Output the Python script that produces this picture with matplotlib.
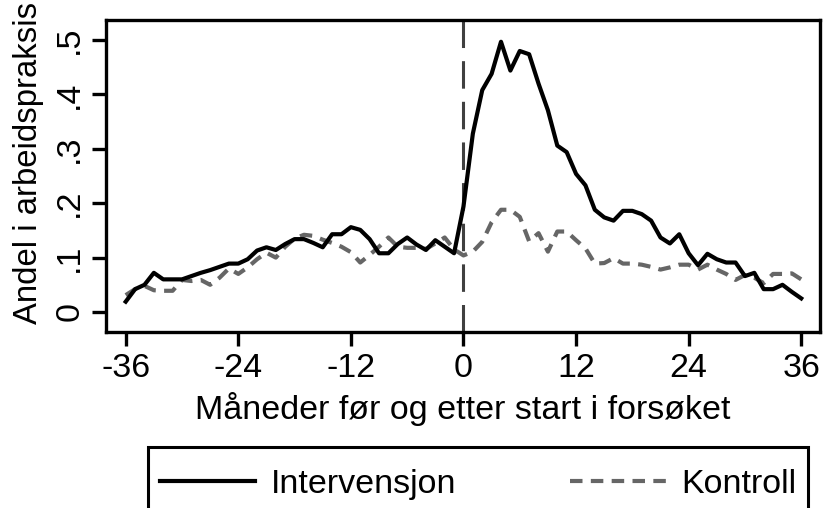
import numpy as np
import matplotlib
matplotlib.use("Agg")
import matplotlib.pyplot as plt
from matplotlib.patches import Rectangle

# months relative to start of the trial
months = list(range(-36, 37))

intervensjon = [
    0.019, 0.042, 0.050, 0.072, 0.060, 0.060, 0.060, 0.066, 0.072, 0.077,
    0.083, 0.089, 0.089, 0.097, 0.113, 0.119, 0.114, 0.125, 0.134, 0.134,
    0.127, 0.119, 0.143, 0.143, 0.156, 0.151, 0.134, 0.108, 0.108, 0.125,
    0.137, 0.124, 0.114, 0.132, 0.120, 0.108, 0.194, 0.328, 0.408, 0.438,
    0.497, 0.444, 0.480, 0.474, 0.420, 0.371, 0.306, 0.294, 0.254, 0.233,
    0.188, 0.174, 0.168, 0.186, 0.186, 0.180, 0.168, 0.137, 0.126, 0.143,
    0.108, 0.086, 0.107, 0.097, 0.091, 0.091, 0.066, 0.072, 0.042, 0.042,
    0.050, 0.037, 0.025,
]

kontroll = [
    0.031, 0.042, 0.048, 0.040, 0.039, 0.039, 0.059, 0.057, 0.059, 0.050,
    0.063, 0.080, 0.070, 0.082, 0.097, 0.109, 0.100, 0.120, 0.135, 0.142,
    0.140, 0.133, 0.127, 0.120, 0.110, 0.091, 0.105, 0.120, 0.137, 0.120,
    0.118, 0.118, 0.116, 0.126, 0.137, 0.115, 0.104, 0.111, 0.129, 0.165,
    0.188, 0.188, 0.175, 0.130, 0.145, 0.111, 0.148, 0.148, 0.132, 0.117,
    0.089, 0.090, 0.099, 0.089, 0.089, 0.087, 0.083, 0.078, 0.082, 0.087,
    0.087, 0.078, 0.087, 0.078, 0.070, 0.059, 0.068, 0.063, 0.053, 0.070,
    0.070, 0.071, 0.060,
]

x_ticks = [-36, -24, -12, 0, 12, 24, 36]
y_ticks = [0, 0.1, 0.2, 0.3, 0.4, 0.5]
y_ticklabels = ["0", ".1", ".2", ".3", ".4", ".5"]

plt.rcParams["font.family"] = ["Liberation Sans", "DejaVu Sans"]
FS = 24.5

W, H = 826, 508
fig = plt.figure(figsize=(W / 100, H / 100), dpi=100)
ax = fig.add_axes([106 / W, 1 - 332 / H, 714 / W, 312 / H])

ax.axvline(0, color="#404040", lw=2.2, dashes=(9, 4.3), zorder=1)
l1, = ax.plot(months, intervensjon, color="black", lw=3.0, zorder=3,
              label="Intervensjon")
l2, = ax.plot(months, kontroll, color="#666666", lw=3.0, dashes=(3, 2),
              zorder=2, label="Kontroll")

ax.set_xlim(-38.1, 38.0)
ax.set_ylim(-0.0368, 0.537)
ax.set_xticks(x_ticks)
ax.set_xticklabels([str(t) for t in x_ticks], fontsize=FS)
ax.set_yticks(y_ticks)
ax.set_yticklabels(y_ticklabels, fontsize=FS, rotation=90, va="center")
ax.tick_params(axis="both", width=2.4, length=10, pad=5)

for s in ax.spines.values():
    s.set_linewidth(2.4)

ax.set_xlabel("Måneder før og etter start i forsøket", fontsize=FS, labelpad=6)
ax.set_ylabel("Andel i arbeidspraksis", fontsize=23.7)
ax.yaxis.set_label_coords(-0.087, 0.542)

# legend box (its bottom runs off the figure, as in the reference)
fig.patches.append(Rectangle((148 / W, -0.1), 660 / W, 0.1 + 1 - 447 / H,
                             transform=fig.transFigure, fill=False,
                             edgecolor="black", lw=2.2))

fig.legend([l1, l2], ["Intervensjon", "Kontroll"], ncol=2,
           loc="upper left", mode="expand",
           bbox_to_anchor=(148 / W, 1 - 462 / H, 660 / W, 0.01),
           fontsize=FS, frameon=False,
           handlelength=2.8, handletextpad=0.45, columnspacing=4.0,
           borderpad=0.35, borderaxespad=0)

fig.savefig("out.png", dpi=100)
